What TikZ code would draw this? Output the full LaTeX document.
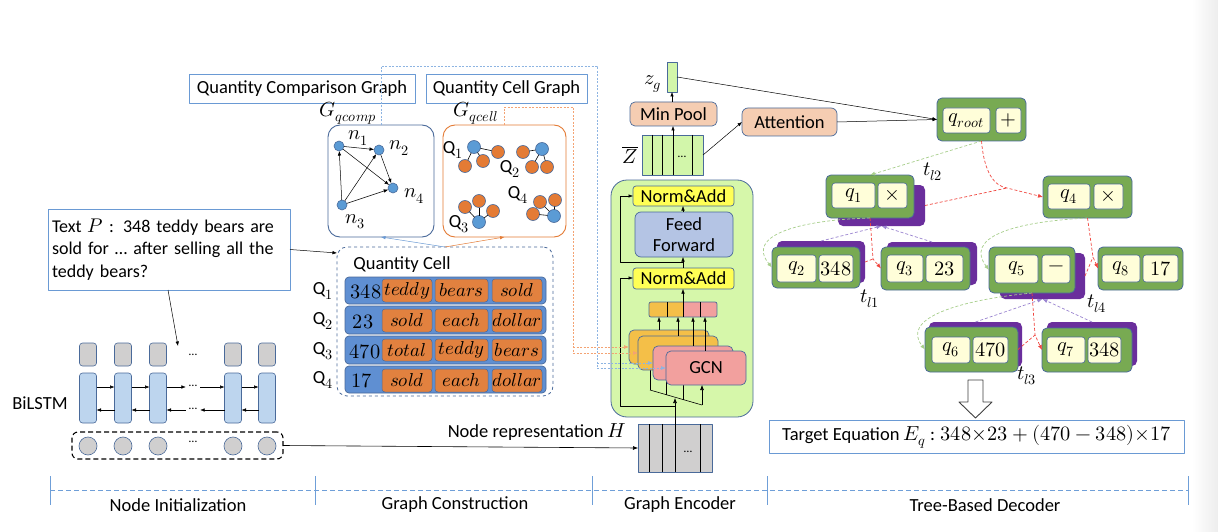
\documentclass[tikz,border=0pt]{standalone}
\usepackage{fontspec}
\usepackage{unicode-math}
\setmainfont{Carlito}
\setmathfont{Latin Modern Math}[Scale=1.1]
\usetikzlibrary{arrows.meta}
\definecolor{bdr}{HTML}{4A6A9A}
\definecolor{lblue}{HTML}{6A9AD4}
\definecolor{dotblue}{HTML}{5B9BD5}
\definecolor{dotor}{HTML}{E47B35}
\definecolor{cellblue}{HTML}{5F8FD2}
\definecolor{cellor}{HTML}{E2813F}
\definecolor{encgreen}{HTML}{D6F7AA}
\definecolor{nayel}{HTML}{FFFF55}
\definecolor{ffblue}{HTML}{B4C4E4}
\definecolor{gcnor}{HTML}{F4BF48}
\definecolor{gcnpk}{HTML}{F2A09E}
\definecolor{peach}{HTML}{F5CDB2}
\definecolor{zgreen}{HTML}{D2F6AA}
\definecolor{grayf}{HTML}{D0CFCF}
\definecolor{lstm}{HTML}{BDD5EE}
\definecolor{dgreen}{HTML}{78AA52}
\definecolor{cream}{HTML}{FFFED9}
\definecolor{purp}{HTML}{6A2E9C}
\definecolor{gdashc}{HTML}{A8CF8C}
\definecolor{rdashc}{HTML}{F0453E}
\definecolor{pdashc}{HTML}{9A84D0}
\definecolor{axisc}{HTML}{6F9FD8}
\definecolor{ordash}{HTML}{F4A373}
\definecolor{bldash}{HTML}{8DB4E2}
\newcommand\mybox[7]{%
  \pgfmathsetmacro\mbw{#4-#2}\pgfmathsetmacro\mbh{#5-#3}%
  \pgfmathsetmacro\mbx{(#2+#4)/2}\pgfmathsetmacro\mby{(#3+#5)/2}%
  \node[#6,minimum width=\mbw pt,minimum height=\mbh pt] (#1) at (\mbx,\mby) {#7};}
\newcommand\cw[1]{$\symit{#1}$}
\begin{document}
\begin{tikzpicture}[x=1pt,y=-1pt,line join=round,
  every node/.style={inner sep=0pt,outer sep=0pt,font=\fontsize{18.5}{22}\selectfont},
  arr/.style={-{Latex[length=5pt,width=4pt]},line width=0.6pt},
  sarr/.style={-{Latex[length=4.5pt,width=3.5pt]},line width=0.5pt},
  lbox/.style={draw=lblue,line width=0.9pt},
  shad/.style={fill=purp,rounded corners=5pt},
  dnode/.style={fill=dgreen,draw=bdr,line width=0.8pt,rounded corners=5pt},
  dcell/.style={fill=cream,draw=bdr,line width=0.6pt,rounded corners=3pt},
  gd/.style={draw=gdashc,dash pattern=on 3pt off 2pt,line width=0.7pt,-{Latex[length=5pt,width=4pt]}},
  rd/.style={draw=rdashc,dash pattern=on 3pt off 2pt,line width=0.7pt},
  pd/.style={draw=pdashc,dash pattern=on 3pt off 2pt,line width=0.7pt},
  bld/.style={draw=bldash,dash pattern=on 2pt off 1.5pt,line width=0.7pt},
  ord/.style={draw=ordash,dash pattern=on 2pt off 1.5pt,line width=0.7pt},
  dotb/.style={circle,fill=dotblue,draw=bdr,line width=0.6pt,minimum size=10pt},
  dotc/.style={circle,fill=dotblue,draw=bdr,line width=0.6pt,minimum size=13pt},
  doto/.style={circle,fill=dotor,draw=bdr,line width=0.6pt,minimum size=13pt},
  qrow/.style={fill=cellblue,draw=bdr,line width=0.7pt,rounded corners=4pt},
  qcl/.style={fill=cellor,draw=bdr,line width=0.5pt,rounded corners=3pt,font=\fontsize{17}{20}\selectfont},
  small/.style={font=\fontsize{12}{12}\selectfont},
]
\useasboundingbox (0,0) rectangle (1218,532);
\fill[white] (0,0) rectangle (1218,532);
\shade[left color=white,right color=black!7] (1192,0) rectangle (1218,532);

% ---------- graph construction: top ----------
\mybox{qcg}{189}{74}{415}{103}{lbox}{Quantity Comparison Graph}
\mybox{qclg}{426}{74}{587}{103}{lbox}{Quantity Cell Graph}
\node (gcomp) at (348,113) {$G_{qcomp}$};
\node (gcell) at (476,113) {$G_{qcell}$};
\mybox{cbox}{328}{125}{434}{237}{draw=bdr,line width=0.9pt,rounded corners=12pt}{}
\mybox{lgbox}{443}{125}{566}{237}{draw=dotor,line width=0.9pt,rounded corners=12pt}{}

% comparison graph
\node[dotb] (n1) at (339,146) {};
\node[dotb] (n2) at (379,150) {};
\node[dotb] (n4) at (393,188) {};
\node[dotb] (n3) at (342,205) {};
\draw[sarr] (n1) -- (n2);
\draw[sarr] (n1) -- (n4);
\draw[sarr] (n2) -- (n4);
\draw[sarr] (n3) -- (n1);
\draw[sarr] (n3) -- (n2);
\draw[sarr] (n3) -- (n4);
\node (ln1) at (358,138) {$n_1$};
\node (ln2) at (399,148) {$n_2$};
\node (ln4) at (414,196) {$n_4$};
\node (ln3) at (355,222) {$n_3$};

% cell graph
\node[dotc] (c1) at (474,147) {};
\node[doto] (c1a) at (498,152) {};
\node[doto] (c1b) at (483,161) {};
\node[doto] (c1c) at (465,166) {};
\node[dotc] (c2) at (542,149) {};
\node[doto] (c2a) at (523,152) {};
\node[doto] (c2b) at (532,167) {};
\node[doto] (c2c) at (547,167) {};
\node[dotc] (c3) at (479,222) {};
\node[doto] (c3a) at (465,207) {};
\node[doto] (c3b) at (479,201) {};
\node[doto] (c3c) at (493,211) {};
\node[dotc] (c4) at (554,216) {};
\node[doto] (c4a) at (540,202) {};
\node[doto] (c4b) at (555,200) {};
\node[doto] (c4c) at (533,214) {};
\foreach \a/\b in {c1/c1a,c1/c1b,c1/c1c,c2/c2a,c2/c2b,c2/c2c,c3/c3a,c3/c3b,c3/c3c,c4/c4a,c4/c4b,c4/c4c}
  \draw[line width=0.6pt] (\a) -- (\b);
\node (lq1) at (453,150) {$\mathrm{Q}_1$};
\node (lq2) at (510,169) {$\mathrm{Q}_2$};
\node (lq3) at (459,224) {$\mathrm{Q}_3$};
\node (lq4) at (518,195) {$\mathrm{Q}_4$};

% ---------- text P ----------
\node[lbox,minimum width=242pt,minimum height=81pt,text width=234pt,align=left,
  font=\fontsize{18}{22.5}\selectfont] (textp) at (169,249.5)
  {Text $P$ : 348 teddy bears are\\ sold for \ldots\ after selling all the\\ teddy bears?};

% ---------- Quantity Cell ----------
\mybox{qcbox}{337}{247}{553}{396}{draw=bdr,dashed,line width=0.8pt,rounded corners=10pt}{}
\node (qctitle) at (402,265) {Quantity Cell};
\mybox{r1}{345}{277}{546}{304}{qrow}{}
\mybox{r2}{345}{306}{546}{334}{qrow}{}
\mybox{r3}{345}{336}{546}{364}{qrow}{}
\mybox{r4}{345}{366}{546}{393}{qrow}{}
\mybox{r1a}{382}{279}{432}{302}{qcl}{\cw{teddy}}
\mybox{r1b}{435}{279}{488}{302}{qcl}{\cw{bears}}
\mybox{r1c}{492}{279}{542}{302}{qcl}{\cw{sold}}
\mybox{r2a}{382}{309}{432}{332}{qcl}{\cw{sold}}
\mybox{r2b}{435}{309}{488}{332}{qcl}{\cw{each}}
\mybox{r2c}{492}{309}{542}{332}{qcl}{\cw{dollar}}
\mybox{r3a}{382}{339}{432}{361}{qcl}{\cw{total}}
\mybox{r3b}{435}{339}{488}{361}{qcl}{\cw{teddy}}
\mybox{r3c}{492}{339}{542}{361}{qcl}{\cw{bears}}
\mybox{r4a}{382}{369}{432}{392}{qcl}{\cw{sold}}
\mybox{r4b}{435}{369}{488}{392}{qcl}{\cw{each}}
\mybox{r4c}{492}{369}{542}{392}{qcl}{\cw{dollar}}
\node (r1n) at (366,292) {$348$};
\node (r2n) at (363,322) {$23$};
\node (r3n) at (365,352) {$470$};
\node (r4n) at (362,381) {$17$};
\node (qr1) at (323,291) {$\mathrm{Q}_1$};
\node (qr2) at (323,321) {$\mathrm{Q}_2$};
\node (qr3) at (323,351) {$\mathrm{Q}_3$};
\node (qr4) at (323,380) {$\mathrm{Q}_4$};

\draw[sarr] (textp.east) -- ([yshift=-6pt]qcbox.north west);
\draw[sarr,draw=lblue] (qcbox.north) -- (cbox.south);
\draw[sarr,draw=dotor] (qcbox.north) -- (lgbox.south);

% ---------- BiLSTM ----------
\foreach \i/\x in {1/88,2/123,3/158,4/233,5/267}{
  \node[fill=grayf,draw=bdr,line width=0.6pt,rounded corners=3pt,minimum width=17pt,minimum height=23pt] (lt\i) at (\x,354.5) {};
  \node[fill=lstm,draw=bdr,line width=0.6pt,rounded corners=3pt,minimum width=17pt,minimum height=50pt] (lb\i) at (\x,398) {};
  \node[circle,fill=grayf,draw=bdr,line width=0.6pt,minimum size=18pt] (lc\i) at (\x,446) {};
}
\node[small] (dtop) at (193,355) {\ldots};
\node[small] (dmr) at (193,386) {\ldots};
\node[small] (dml) at (193,409) {\ldots};
\node[small] (dbot) at (193,442) {\ldots};
\node (bilstm) at (40,403) {BiLSTM};
\coordinate (dtip) at (178,346);
\draw[sarr] ([xshift=-1pt]textp.south) -- (dtip);
\draw[sarr] (lb1.east|-0,387) -- (lb2.west|-0,387);
\draw[sarr] (lb2.east|-0,387) -- (lb3.west|-0,387);
\draw[sarr] (lb3.east|-0,387) -- ([xshift=-3pt]dmr.west|-0,387);
\draw[sarr] ([xshift=3pt]dmr.east|-0,387) -- (lb4.west|-0,387);
\draw[sarr] (lb4.east|-0,387) -- (lb5.west|-0,387);
\draw[sarr] (lb2.west|-0,410) -- (lb1.east|-0,410);
\draw[sarr] (lb3.west|-0,410) -- (lb2.east|-0,410);
\draw[sarr] ([xshift=-3pt]dml.west|-0,410) -- (lb3.east|-0,410);
\draw[sarr] (lb4.west|-0,410) -- ([xshift=3pt]dml.east|-0,410);
\draw[sarr] (lb5.west|-0,410) -- (lb4.east|-0,410);
\mybox{ldash}{72}{432}{283}{459}{draw,dash pattern=on 5pt off 3pt,line width=1.1pt,rounded corners=6pt}{}

% ---------- H ----------
\mybox{hrect}{638}{424}{712}{472}{draw=bdr,fill=grayf,line width=0.8pt}{}
\foreach \x in {649,662,675,700} \draw[line width=0.8pt] (\x,424) -- (\x,472);
\node[small] (hdots) at (688,452) {\ldots};
\draw[arr] (ldash.east) -- (hrect.west);
\node (nrep) at (537,432) {Node representation $H$};

% ---------- Graph encoder ----------
\mybox{enc}{611}{180}{753}{417}{draw=bdr,fill=encgreen,line width=0.8pt,rounded corners=16pt}{}
\coordinate (sl1) at (650,390);
\coordinate (sl4) at (702,405);
\draw[line width=0.6pt] (sl1) -- (sl4);
\draw[line width=0.6pt] (sl1) -- (650,364);
\draw[line width=0.6pt] (666,395) -- (666,370);
\draw[line width=0.6pt] (683,400) -- (683,380);
\mybox{g1}{629}{330}{709}{364}{fill=gcnor,draw=bdr,line width=0.7pt,rounded corners=5pt}{}
\mybox{g2}{638}{336}{718}{370}{fill=gcnor,draw=bdr,line width=0.7pt,rounded corners=5pt}{}
\mybox{g3}{653}{346}{733}{380}{fill=gcnpk,draw=bdr,line width=0.7pt,rounded corners=5pt}{}
\mybox{g4}{666}{351}{746}{385}{fill=gcnpk,draw=bdr,line width=0.7pt,rounded corners=5pt}{GCN}
\draw[arr] (sl4) -- (g4.south-|sl4);
\coordinate (hin) at (675,398);
\coordinate (hres) at (675,406);
\draw[arr] (hrect.north) -- (hin);
\fill[gcnor] (649,302) rectangle (683,317);
\fill[gcnpk] (683,302) rectangle (717,317);
\mybox{bar}{649}{302}{717}{317}{draw=bdr,line width=0.7pt,rounded corners=2pt}{}
\foreach \x in {667,683,700} \draw[line width=0.7pt] (\x,302) -- (\x,317);
\draw[sarr] (g1.north-|659,0) -- (bar.south-|659,0);
\draw[sarr] (g2.north-|678,0) -- (bar.south-|678,0);
\draw[sarr] (g3.north-|693,0) -- (bar.south-|693,0);
\draw[sarr] (g4.north-|705,0) -- (bar.south-|705,0);
\mybox{na2}{633}{268}{734}{289}{fill=nayel,draw=bdr,line width=0.7pt,rounded corners=3pt}{Norm\&Add}
\mybox{ff}{635}{212}{733}{257}{fill=ffblue,draw=bdr,line width=0.7pt,rounded corners=6pt,align=center,font=\fontsize{18.5}{20.5}\selectfont}{Feed\\Forward}
\mybox{na1}{633}{186}{734}{206}{fill=nayel,draw=bdr,line width=0.7pt,rounded corners=3pt}{Norm\&Add}
\draw[sarr] (bar.north-|683,0) -- (na2.south-|683,0);
\draw[sarr] (na2.north-|683,0) -- (ff.south-|683,0);
\draw[sarr] (ff.north-|683,0) -- (na1.south-|683,0);
\coordinate (res1) at (683,262);
\draw[sarr] (res1) -| (620,196) -- (na1.west|-0,196);
\draw[sarr] (hres) -| (620,278) -- (na2.west|-0,278);
\draw[bld] (cbox.north) -- (381,66) -- (597,66) -- (597,368);
\draw[bld,-{Latex[length=5pt,width=4pt]}] (597,368) -- (g4.west|-0,368);
\draw[bld,-{Latex[length=5pt,width=4pt]}] (597,363) -- (g3.west|-0,363);
\draw[ord] (lgbox.north) -- (504.5,107) -- (573,107) -- (573,353);
\draw[ord,-{Latex[length=5pt,width=4pt]}] (573,353) -- (g2.west|-0,353);
\draw[ord,-{Latex[length=5pt,width=4pt]}] (573,347) -- (g1.west|-0,347);

% ---------- encoder top ----------
\mybox{zbar}{642}{135}{703}{175}{fill=zgreen,draw=bdr,line width=0.7pt}{}
\foreach \x in {652,662,673,692} \draw[line width=0.7pt] (\x,135) -- (\x,175);
\node[small] (zdots) at (682,157) {\ldots};
\node (zlab) at (630,155) {$\overline{Z}$};
\mybox{minp}{630}{102}{717}{126}{fill=peach,draw=bdr,line width=0.7pt,rounded corners=5pt}{Min Pool}
\mybox{zg}{667}{62}{677}{92}{fill=zgreen,draw=bdr,line width=0.7pt}{}
\node (zglab) at (653,84) {$z_g$};
\mybox{att}{742}{108}{837}{136}{fill=peach,draw=bdr,line width=0.7pt,rounded corners=6pt}{Attention}
\draw[sarr] (zbar.north-|673,0) -- (minp.south-|673,0);
\draw[sarr] (minp.north-|672,0) -- (zg.south);
\draw[sarr] (zbar.east) -- (att.west);

% ---------- decoder ----------
\mybox{q1s}{838}{185}{925}{226}{shad}{}
\mybox{q2s}{777}{241}{865}{283}{shad}{}
\mybox{q3s}{887}{242}{977}{285}{shad}{}
\mybox{q5s}{1000}{253}{1085}{299}{shad}{}
\mybox{q6s}{929}{322}{1022}{367}{shad}{}
\mybox{q7s}{1047}{322}{1137}{366}{shad}{}
\mybox{qroot}{937}{98}{1026}{141}{dnode}{}
\mybox{qrootA}{943}{108}{990}{133}{dcell}{$q_{root}$}
\mybox{qrootB}{996}{108}{1021}{133}{dcell}{$+$}
\mybox{q1}{826}{175}{914}{218}{dnode}{}
\mybox{q1A}{832}{183}{875}{208}{dcell}{$q_1$}
\mybox{q1B}{878}{183}{907}{208}{dcell}{$\times$}
\mybox{q4}{1043}{176}{1132}{218}{dnode}{}
\mybox{q4A}{1048}{184}{1090}{209}{dcell}{$q_4$}
\mybox{q4B}{1094}{184}{1123}{209}{dcell}{$\times$}
\mybox{q2}{772}{247}{860}{288}{dnode}{}
\mybox{q2A}{777}{255}{816}{282}{dcell}{$q_2$}
\mybox{q2B}{819}{255}{853}{282}{dcell}{$348$}
\mybox{q3}{881}{247}{970}{290}{dnode}{}
\mybox{q3A}{887}{255}{923}{282}{dcell}{$q_3$}
\mybox{q3B}{926}{255}{963}{282}{dcell}{$23$}
\mybox{q5}{989}{247}{1075}{293}{dnode}{}
\mybox{q5A}{995}{255}{1038}{283}{dcell}{$q_5$}
\mybox{q5B}{1042}{255}{1070}{283}{dcell}{$-$}
\mybox{q8}{1098}{247}{1183}{290}{dnode}{}
\mybox{q8A}{1102}{255}{1140}{282}{dcell}{$q_8$}
\mybox{q8B}{1143}{255}{1178}{282}{dcell}{$17$}
\mybox{q6}{925}{327}{1018}{372}{dnode}{}
\mybox{q6A}{932}{337}{970}{363}{dcell}{$q_6$}
\mybox{q6B}{973}{337}{1008}{363}{dcell}{$470$}
\mybox{q7}{1042}{328}{1132}{372}{dnode}{}
\mybox{q7A}{1047}{337}{1085}{363}{dcell}{$q_7$}
\mybox{q7B}{1088}{337}{1121}{363}{dcell}{$348$}
\node (tl2) at (933,172) {$t_{l2}$};
\node (tl1) at (870,299) {$t_{l1}$};
\node (tl4) at (1097,304) {$t_{l4}$};
\node (tl3) at (1027,376) {$t_{l3}$};

\draw[sarr] (zg.east) -- (qroot.west);
\draw[sarr] (att.east) -- (qroot.west);

\coordinate (m1) at (1007,188);
\coordinate (m2) at (873,259);
\coordinate (m3) at (1093,257);
\coordinate (m4) at (1035,335);
\draw[gd] (qroot.south) -- (q1.north);
\draw[rd,-{Latex[length=5pt,width=4pt]}] (qroot.south) .. controls (984,172) and (994,186) .. (m1) -- (q4.west);
\draw[rd] (q1s.east) -- (m1);
\draw[gd] (q1.south) .. controls (800,220) and (745,235) .. (q2.west);
\draw[pd,-{Latex[length=5pt,width=4pt]}] (q2s.north) -- (q1s.south);
\draw[pd,-{Latex[length=5pt,width=4pt]}] (q3s.north) -- (q1s.south);
\draw[rd,-{Latex[length=5pt,width=4pt]}] (q1.south) -- (m2) -- (q3.west);
\draw[rd] (q2s.east) -- (m2);
\draw[gd] (q4.south) .. controls (1010,222) and (965,238) .. (q5.west);
\draw[rd,-{Latex[length=5pt,width=4pt]}] (q4.south) -- (m3) -- (q8.west);
\draw[rd] (q5s.east) -- (m3);
\draw[gd] (q5.south) .. controls (960,300) and (900,318) .. (q6.west);
\draw[pd,-{Latex[length=5pt,width=4pt]}] (q6s.north) -- (q5s.south);
\draw[pd,-{Latex[length=5pt,width=4pt]}] (q7s.north) -- (q5s.south);
\draw[rd,-{Latex[length=5pt,width=4pt]}] (q5.south) -- (m4) -- (q7.west);
\draw[rd] (q6.east) -- (m4);

\draw[line width=0.9pt,fill=white,draw=black!75] (968,380) -- (983,380) -- (983,402) -- (992,402) -- (975.5,418) -- (959,402) -- (968,402) -- cycle;
\mybox{target}{769}{420}{1184}{453}{lbox}{Target Equation $E_q$ : $348{\times}23+(470-348){\times}17$}

% ---------- axis ----------
\draw[axisc,line width=0.8pt,dash pattern=on 5pt off 3pt] (50,490) -- (1188,490);
\foreach \x in {50,315,592,767,1188} \draw[axisc,line width=1pt] (\x,476) -- (\x,505);
\node (ax1) at (178,505) {Node Initialization};
\node (ax2) at (455,505) {Graph Construction};
\node (ax3) at (680,505) {Graph Encoder};
\node (ax4) at (985,505) {Tree-Based Decoder};
\end{tikzpicture}
\end{document}
